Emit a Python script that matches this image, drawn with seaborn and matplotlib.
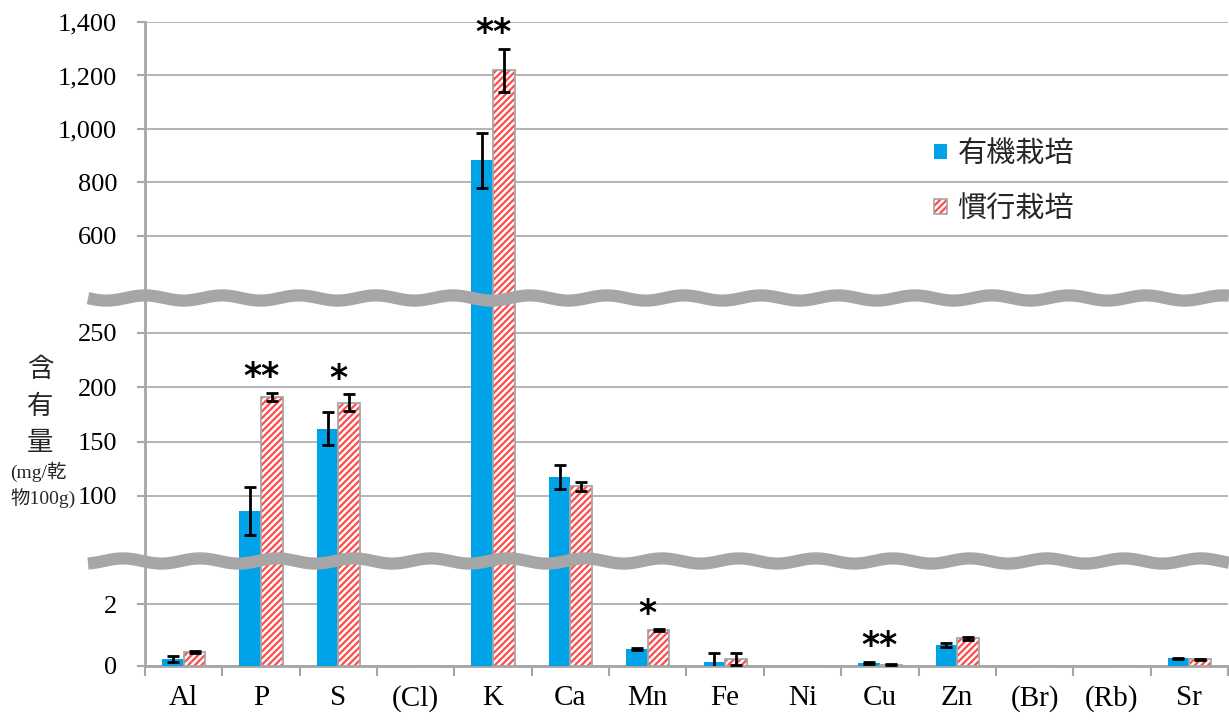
import numpy as np
import pandas as pd
import matplotlib
matplotlib.use('Agg')
import matplotlib.pyplot as plt
import seaborn as sns
from matplotlib.patches import Patch, Rectangle
from matplotlib.legend_handler import HandlerTuple
from matplotlib.lines import Line2D
from matplotlib.ticker import FuncFormatter, FixedLocator

# ---------------- data ----------------
elements = ['Al', 'P', 'S', '(Cl)', 'K', 'Ca', 'Mn', 'Fe', 'Ni', 'Cu', 'Zn', '(Br)', '(Rb)', 'Sr']
organic = [0.23, 86, 162, 0, 883, 117.5, 0.55, 0.13, 0, 0.10, 0.68, 0, 0, 0.25]
organic_err = [0.09, 22, 15, 0, 103, 11, 0.04, 0.29, 0, 0.04, 0.07, 0, 0, 0.02]
conventional = [0.45, 191, 186, 0, 1220, 109, 1.16, 0.23, 0, 0.04, 0.90, 0, 0, 0.22]
conventional_err = [0.03, 4, 8, 0, 80, 4, 0.04, 0.19, 0, 0.01, 0.05, 0, 0, 0.02]
series = ['有機栽培', '慣行栽培']
sig_elements = ['P', 'S', 'K', 'Mn', 'Cu']
sig_marks = ['**', '*', '**', '*', '**']

top_ticks = [600, 800, 1000, 1200, 1400]
mid_ticks = [100, 150, 200, 250]
bot_ticks = [0, 2]

# ---------------- style ----------------
sns.set_theme(style='white')
plt.rcParams['font.family'] = ['Liberation Serif', 'Noto Sans CJK JP', 'DejaVu Sans']
plt.rcParams['hatch.linewidth'] = 1.6

BLUE = '#00A2E8'
RED = '#FF4B4B'
GRAY = '#A6A6A6'
GRID = '#A0A0A0'

df = pd.DataFrame({
    'element': elements * 2,
    'value': organic + conventional,
    'series': [series[0]] * len(elements) + [series[1]] * len(elements),
})

W, H = 1229, 720
fig = plt.figure(figsize=(W / 100, H / 100), dpi=100)

left = 145 / W
width = (1228 - 145) / W


def rect(top_px, bot_px):
    return [left, (H - bot_px) / H, width, (bot_px - top_px) / H]


ax_top = fig.add_axes(rect(22, 298))
ax_mid = fig.add_axes(rect(298, 558))
ax_bot = fig.add_axes(rect(558, 666))
axes = [ax_top, ax_mid, ax_bot]
limits = [(368, 1400), (42.9, 282.2), (0, 3.484)]
ticks = [top_ticks, mid_ticks, bot_ticks]

for ax, lim, tk in zip(axes, limits, ticks):
    sns.barplot(data=df, x='element', y='value', hue='series', order=elements,
                hue_order=series, palette=[BLUE, 'white'], width=0.56,
                errorbar=None, saturation=1, legend=False, ax=ax, zorder=3)
    n = len(elements)
    patches = list(ax.patches)
    org_p = patches[:n]
    con_p = patches[n:2 * n]
    for p in org_p:
        p.set_facecolor(BLUE)
        p.set_edgecolor('none')
        p.set_linewidth(0)
    for p in con_p:
        p.set_facecolor('white')
        p.set_edgecolor(RED)
        p.set_linewidth(0)
        p.set_hatch('/////')
        ax.add_patch(Rectangle((p.get_x(), 0), p.get_width(), p.get_height(),
                               fill=False, edgecolor=GRAY, linewidth=1.3, zorder=3.5))
    for plist, vals, errs in [(org_p, organic, organic_err), (con_p, conventional, conventional_err)]:
        xs = [p.get_x() + p.get_width() / 2 for p, e in zip(plist, errs) if e > 0]
        ys = [v for v, e in zip(vals, errs) if e > 0]
        es = [e for e in errs if e > 0]
        ax.errorbar(xs, ys, yerr=es, fmt='none', ecolor='black', elinewidth=2,
                    capsize=4.5, capthick=2, zorder=4)
    ax.set_ylim(*lim)
    ax.set_xlim(-0.5, n - 0.5)
    ax.set_yticks(tk)
    ax.yaxis.set_major_formatter(FuncFormatter(lambda v, pos: f'{int(v):,}'))
    ax.yaxis.grid(True, color=GRID, linewidth=1.1)
    ax.set_axisbelow(True)
    ax.set_xlabel('')
    ax.set_ylabel('')
    for s in ['top', 'right', 'bottom']:
        ax.spines[s].set_visible(False)
    ax.spines['left'].set_color(GRAY)
    ax.spines['left'].set_linewidth(2)
    ax.tick_params(axis='y', which='major', left=True, length=6, width=1.5, color=GRAY,
                   labelsize=19, labelcolor='black', pad=14)
    ax.patch.set_alpha(0)

    # significance marks
    for el, mk in zip(sig_elements, sig_marks):
        i = elements.index(el)
        top_val = max(organic[i] + organic_err[i], conventional[i] + conventional_err[i])
        if lim[0] <= top_val <= lim[1]:
            ax.annotate(mk, (i, top_val), xytext=(0, 11), textcoords='offset points',
                        ha='center', va='center', fontsize=25, family='DejaVu Sans',
                        fontweight='bold', color='black', zorder=6)

for ax in [ax_top, ax_mid]:
    ax.set_xticks([])
    ax.tick_params(axis='x', bottom=False, labelbottom=False)

ax_bot.spines['bottom'].set_visible(True)
ax_bot.spines['bottom'].set_color(GRAY)
ax_bot.spines['bottom'].set_linewidth(2)
ax_bot.set_xticks(range(len(elements)))
ax_bot.set_xticklabels(elements)
ax_bot.xaxis.set_minor_locator(FixedLocator(np.arange(-0.5, len(elements), 1.0)))
ax_bot.tick_params(axis='x', which='major', bottom=False, length=0, labelsize=21, pad=14,
                   labelcolor='black')
ax_bot.tick_params(axis='x', which='minor', bottom=True, length=7, width=1.5, color=GRAY)

# legend
h1 = Patch(facecolor=BLUE, edgecolor='none')
h2 = (Patch(facecolor='white', edgecolor=RED, hatch='/////', linewidth=0),
      Patch(fill=False, edgecolor=GRAY, linewidth=1.2))
leg = fig.legend([h1, h2], series, loc='upper left',
                 bbox_to_anchor=(934 / W, 1 - 139 / H), bbox_transform=fig.transFigure,
                 handler_map={tuple: HandlerTuple(ndivide=1)}, frameon=False,
                 prop={'family': 'Noto Sans CJK JP', 'size': 21},
                 handlelength=0.45, handleheight=0.45, handletextpad=0.35,
                 labelspacing=0.85, borderpad=0, borderaxespad=0)
leg.set_zorder(10)

# y label
CJK = 'Noto Sans CJK JP'
fig.text(40 / W, 1 - 370 / H, '含', ha='center', va='center', fontsize=19, family=CJK)
fig.text(40 / W, 1 - 407 / H, '有', ha='center', va='center', fontsize=19, family=CJK)
fig.text(40 / W, 1 - 442 / H, '量', ha='center', va='center', fontsize=19, family=CJK)
fig.text(38 / W, 1 - 472 / H, '(mg/乾', ha='center', va='center', fontsize=14,
         family=['Liberation Serif', CJK])
fig.text(43 / W, 1 - 498 / H, '物100g)', ha='center', va='center', fontsize=14,
         family=['Liberation Serif', CJK])

# break waves
xw = np.linspace(88, 1229, 900)
for yc, x0 in [(298, 87.25), (561, 65.25)]:
    yw = yc + 2.6 * np.sin(2 * np.pi * (xw - x0) / 77)
    fig.add_artist(Line2D(xw / W, 1 - yw / H, color=GRAY, linewidth=8.8,
                          solid_capstyle='butt', transform=fig.transFigure, zorder=20))

fig.savefig('out.png', dpi=100)
